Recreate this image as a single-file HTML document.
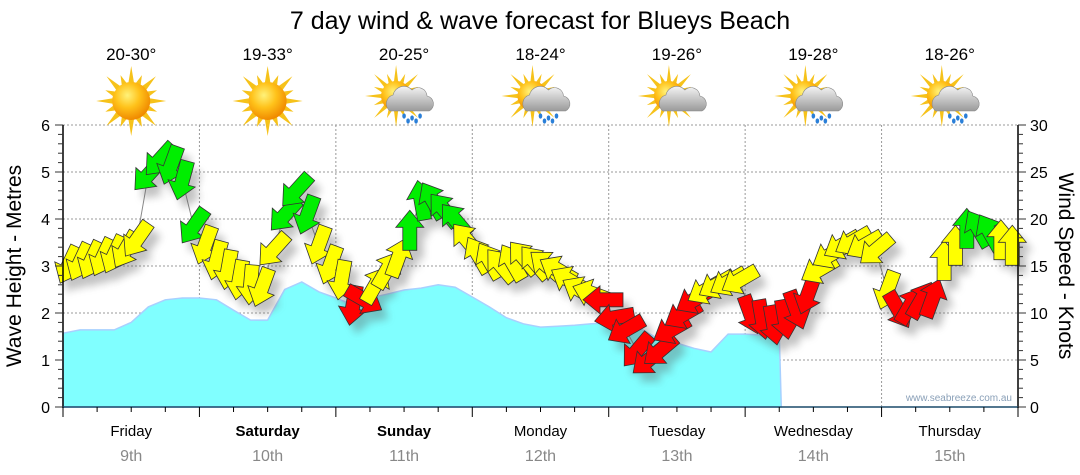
<!DOCTYPE html>
<html><head><meta charset="utf-8">
<style>
body{margin:0;background:#fff;}
svg{display:block;font-family:"Liberation Sans",sans-serif;}
</style></head>
<body>
<svg id="chart" width="1080" height="475" viewBox="0 0 1080 475">
<defs>
<filter id="sh" x="-50%" y="-50%" width="200%" height="200%"><feGaussianBlur stdDeviation="4"/></filter>
<radialGradient id="sunG" cx="40%" cy="35%" r="65%"><stop offset="0" stop-color="#fff27a"/><stop offset="0.5" stop-color="#ffc21a"/><stop offset="1" stop-color="#f08a00"/></radialGradient>
<linearGradient id="cloudG" x1="0" y1="0" x2="0" y2="1"><stop offset="0" stop-color="#f4f4f4"/><stop offset="1" stop-color="#9a9a9a"/></linearGradient>
</defs>
<text x="540" y="29" text-anchor="middle" font-size="25" fill="#000">7 day wind &amp; wave forecast for Blueys Beach</text>
<g id="grid"></g>
<g id="wave"></g>
<g id="wind"></g>
<g id="axes"></g>
<g id="icons"></g>
<text x="1012" y="401" text-anchor="end" font-size="10" fill="#8aa0b8">www.seabreeze.com.au</text>
<text transform="translate(21,266) rotate(-90)" text-anchor="middle" font-size="21">Wave Height - Metres</text>
<text transform="translate(1059,266) rotate(90)" text-anchor="middle" font-size="21">Wind Speed - Knots</text>
</svg>
<script>
const days=["Friday","Saturday","Sunday","Monday","Tuesday","Wednesday","Thursday"];
const dates=["9th","10th","11th","12th","13th","14th","15th"];
const boldDays=[false,true,true,false,false,false,false];
const temps=["20-30°","19-33°","20-25°","18-24°","19-26°","19-28°","18-26°"];
const icons=["sun","sun","rain","rain","cloud","rain","rain"];
const waveTicks=[0,1,2,3,4,5,6];
const windTicks=[0,5,10,15,20,25,30];
// wave height (m), every 3 hours from start
const waveHeights=[1.57,1.64,1.64,1.64,1.8,2.13,2.28,2.32,2.32,2.28,2.06,1.85,1.85,2.5,2.66,2.45,2.32,2.17,2.32,2.4,2.49,2.53,2.6,2.55,2.34,2.13,1.9,1.77,1.7,1.72,1.74,1.77,1.79,1.74,1.64,1.43,1.36,1.25,1.17,1.55,1.55,1.53,1.52];
// wind speed (knots), every 2 hours
const windSpeeds=[15.1,15.4,15.6,15.9,16.2,16.7,17.8,24.7,26.3,25.7,24.1,19.2,
17.2,15.6,14.6,13.5,13,12.7,16.7,20.4,23,20.4,17.2,15.1,
13.5,10.8,11.4,13,14.6,15.9,18.8,22,22,21,19.9,17.8,
16.2,15.6,15.1,15.4,15.9,15.4,15.1,14.6,13.5,12.4,12.1,11.4,
9.5,8.2,6,5,6,8.2,9.8,11.4,12.4,13,13.3,13.5,
9.8,9.3,8.7,9.3,10.3,11.9,14.6,16.2,17.2,17.6,17.2,16.7,
12.4,10.3,10.8,11.4,11.6,15.6,17.2,19,19,18.6,17.8,17.2];
// arrow heading (degrees, 0 = up)
const windDirs=[205,205,205,205,205,210,215,222,222,200,195,215,
200,195,190,190,185,200,222,222,222,200,200,200,
190,190,120,30,30,20,0,350,330,320,320,320,
330,330,320,330,320,320,310,300,300,300,290,270,
260,240,220,230,230,240,240,240,240,240,240,240,
160,170,170,170,160,200,240,240,240,240,240,230,
200,150,30,30,20,0,0,0,330,330,0,0];

const NS="http://www.w3.org/2000/svg";
const X0=63,X1=1018,Y0=407,Y6=125,HOURS=168;
const xH=h=>X0+h*(X1-X0)/HOURS;
const yM=m=>Y0-m*(Y0-Y6)/6;
const yK=k=>Y0-k*(Y0-Y6)/30;
function mk(tag,attrs,parent){const e=document.createElementNS(NS,tag);for(const k in attrs)e.setAttribute(k,attrs[k]);parent.appendChild(e);return e;}

const grid=document.getElementById('grid');
waveTicks.forEach(t=>{if(t>0){const l=mk('line',{x1:X0,x2:X1,y1:yM(t),y2:yM(t),stroke:'#999','stroke-dasharray':'2,2','stroke-width':1},grid);

}});
for(let d=1;d<7;d++){const l=mk('line',{x1:xH(d*24),x2:xH(d*24),y1:Y6,y2:Y0,stroke:'#999','stroke-dasharray':'2,2','stroke-width':1},grid);

}

const wave=document.getElementById('wave');
let d=`M${X0},${Y0}`;
waveHeights.forEach((v,i)=>{d+=` L${xH(i*3).toFixed(1)},${yM(v).toFixed(1)}`;});
const lastX=xH((waveHeights.length-1)*3)+2;
d+=` L${lastX.toFixed(1)},${Y0} Z`;
const wa=mk('path',{d:d,fill:'#80ffff',stroke:'#a8d0ff','stroke-width':1.5},wave);



const wind=document.getElementById('wind');
const pts=windSpeeds.map((v,i)=>[xH(i*2+1),yK(v)]);
const ln=mk('polyline',{points:pts.map(p=>p.join(',')).join(' '),fill:'none',stroke:'#888','stroke-width':1},wind);


const arrowPath="M0,-20 L14,-3 L7,-3 L7,20 L-7,20 L-7,-3 L-14,-3 Z";
const shadows=mk('g',{filter:'url(#sh)',opacity:0.35},wind);
windSpeeds.forEach((v,i)=>{const [x,y]=pts[i];
mk('path',{d:arrowPath,fill:'#555',transform:`translate(${x+7},${y+9}) rotate(${windDirs[i]})`},shadows);});
windSpeeds.forEach((v,i)=>{const [x,y]=pts[i];
const col=v<12?'#ff0000':(v<18.5?'#ffff00':'#00ee00');
const a=mk('path',{d:arrowPath,fill:col,stroke:'#333','stroke-width':0.8,transform:`translate(${x.toFixed(1)},${y.toFixed(1)}) rotate(${windDirs[i]})`},wind);

});

const ax=document.getElementById('axes');
mk('line',{x1:X0,x2:X0,y1:Y6,y2:Y0+1,stroke:'#000','stroke-width':1.5},ax);
mk('line',{x1:X1,x2:X1,y1:Y6,y2:Y0+1,stroke:'#000','stroke-width':1.5},ax);
mk('line',{x1:X0,x2:X1,y1:Y0,y2:Y0,stroke:'#1a4a6a','stroke-width':1.5},ax);
for(let k=0;k<=30;k++){const y=yK(k);const big=k%5==0;
mk('line',{x1:X0-(big?8:5),x2:X0,y1:y,y2:y,stroke:'#333'},ax);
mk('line',{x1:X1,x2:X1+(big?8:5),y1:y,y2:y,stroke:'#333'},ax);}
waveTicks.forEach(t=>{const e=mk('text',{x:50,y:yM(t)+6,'text-anchor':'end','font-size':16},ax);e.textContent=t;

});
windTicks.forEach(t=>{const e=mk('text',{x:1030,y:yK(t)+6,'font-size':16},ax);e.textContent=t;

});
for(let h=0;h<=168;h+=6){const x=xH(h);mk('line',{x1:x,x2:x,y1:Y0,y2:Y0+(h%24==0?10:5),stroke:'#000'},ax);}
days.forEach((dn,i)=>{const cx=xH(i*24+12);
const t=mk('text',{x:cx,y:436,'text-anchor':'middle','font-size':15,'font-weight':boldDays[i]?'bold':'normal'},ax);t.textContent=dn;


const t2=mk('text',{x:cx,y:461,'text-anchor':'middle','font-size':16,fill:'#888'},ax);t2.textContent=dates[i];

});

const ic=document.getElementById('icons');
function sun(g,cx,cy,r){
 for(let k=0;k<16;k++){const a=k*Math.PI/8,L=k%2?r+9:r+16;
  const p=[[cx+Math.cos(a)*L,cy+Math.sin(a)*L],[cx+Math.cos(a+0.18)*(r-2),cy+Math.sin(a+0.18)*(r-2)],[cx+Math.cos(a-0.18)*(r-2),cy+Math.sin(a-0.18)*(r-2)]];
  mk('polygon',{points:p.map(q=>q.join(',')).join(' '),fill:'#f6c21a'},g);}
 mk('circle',{cx:cx,cy:cy,r:r,fill:'url(#sunG)'},g);}
function cloud(g,cx,cy){
 mk('path',{d:`M${cx-20},${cy+10} a9,9 0 0 1 3,-16 a11,11 0 0 1 19,-5 a9,9 0 0 1 15,6 a8,8 0 0 1 2,15 Z`,fill:'url(#cloudG)',stroke:'#888','stroke-width':0.6},g);}
temps.forEach((t,i)=>{const cx=xH(i*24+12);
 const e=mk('text',{x:cx,y:60,'text-anchor':'middle','font-size':17},ic);e.textContent=t;
 
 
 const g=mk('g',{},ic);
 
 
 if(icons[i]=='sun'){sun(g,cx,101,19);}
 else{sun(g,cx-8,96,15);cloud(g,cx+6,101);
  if(icons[i]=='rain'){[[-6,116],[2,118],[10,116],[-2,121],[6,121]].forEach(p=>mk('ellipse',{cx:cx+p[0]+6,cy:p[1],rx:1.8,ry:2.6,fill:'#2a7fd8'},g));}}
});
</script>
</body></html>
